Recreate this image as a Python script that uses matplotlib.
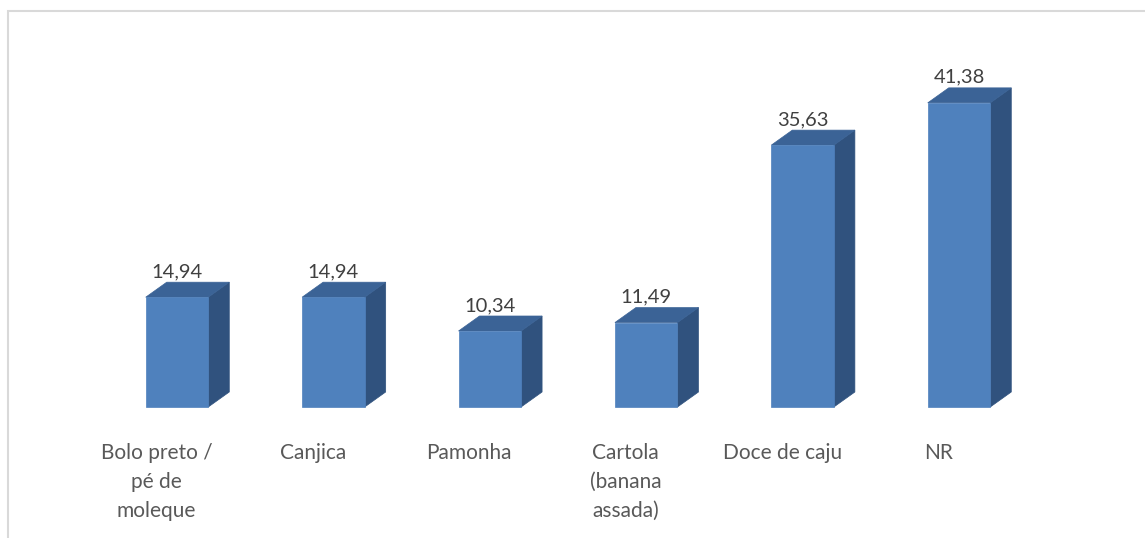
import numpy as np
import matplotlib
matplotlib.use('Agg')
import matplotlib.pyplot as plt
from matplotlib.patches import Polygon, Rectangle

categories = ['Bolo preto /\npé de\nmoleque', 'Canjica', 'Pamonha',
              'Cartola\n(banana\nassada)', 'Doce de caju', 'NR']
values = [14.94, 14.94, 10.34, 11.49, 35.63, 41.38]
value_labels = ['14,94', '14,94', '10,34', '11,49', '35,63', '41,38']

front_color = '#4F81BD'
top_color = '#3B6396'
side_color = '#30527E'

plt.rcParams['font.family'] = ['Lato', 'DejaVu Sans']

W, H = 1145, 538
fig = plt.figure(figsize=(W / 100, H / 100), dpi=100)

# chart frame, running off the right and bottom edges
fig.patches.append(Rectangle((8 / W, -0.01), 1.05, (H - 11) / H + 0.01,
                             transform=fig.transFigure, fill=False,
                             edgecolor='#D9D9D9', linewidth=1.5))

# axes placed so one category step is ~156 px and one unit is ~7.35 px
step = 156.4
ppu = 7.35
left = 177 - 0.5 * step
bottom = H - 407
ax = fig.add_axes([left / W, bottom / H, 6 * step / W, 45 * ppu / H])
ax.set_xlim(-0.5, 5.5)
ax.set_ylim(0, 45)
ax.axis('off')

half = 0.2
dx = 21 / step
dy = 15 / ppu

for i, v in enumerate(values):
    xl, xr = i - half, i + half
    side = [(xr, 0), (xr + dx, dy), (xr + dx, v + dy), (xr, v)]
    top = [(xl, v), (xl + dx, v + dy), (xr + dx, v + dy), (xr, v)]
    ax.add_patch(Polygon(side, closed=True, facecolor=side_color,
                         edgecolor=side_color, linewidth=0.5, clip_on=False))
    ax.add_patch(Polygon(top, closed=True, facecolor=top_color,
                         edgecolor=top_color, linewidth=0.5, clip_on=False))
    ax.bar(i, v, width=2 * half, color=front_color, edgecolor=front_color,
           linewidth=0.5, clip_on=False)
    ax.annotate(value_labels[i], (i, v + dy), xytext=(0, 1.5),
                textcoords='offset points', ha='center', va='bottom',
                fontsize=14.5, color='#404040')
    ax.annotate(categories[i], (i - 20.5 / step, 0), xytext=(0, -26),
                textcoords='offset points', ha='center', va='top',
                fontsize=15, color='#595959', linespacing=1.55)

fig.savefig('out.png', dpi=100)
